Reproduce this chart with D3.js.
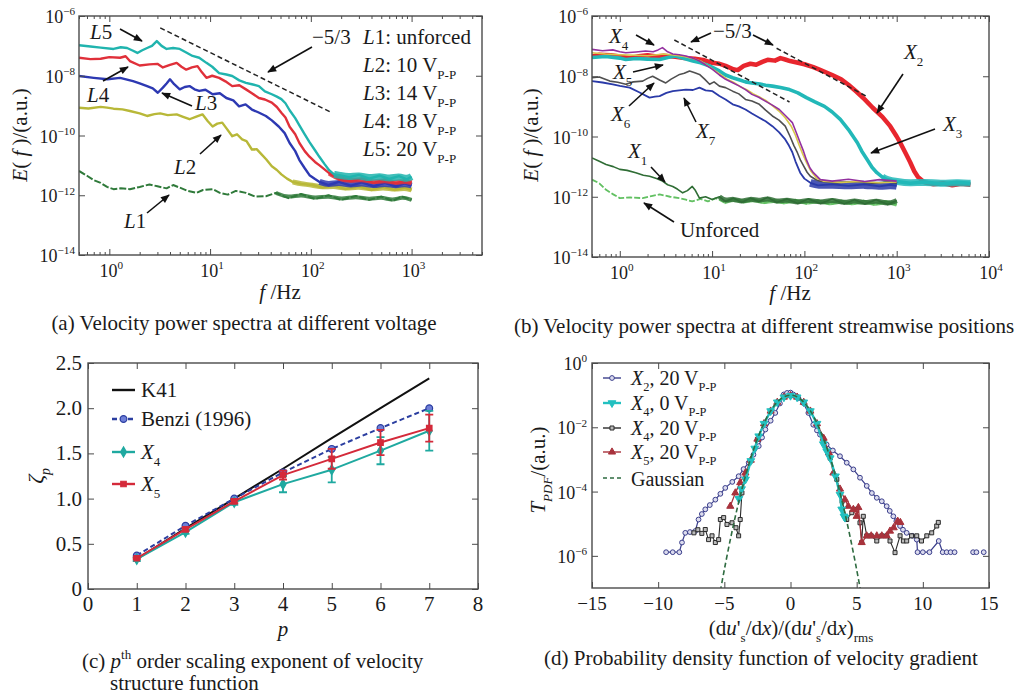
<!DOCTYPE html>
<html>
<head>
<meta charset="utf-8">
<script src="https://cdn.jsdelivr.net/npm/d3@7"></script>
<style>
  body { margin: 0; background: #fff; }
  text { font-family: "Liberation Serif", "Times New Roman", serif; fill: #1a1a1a; }
</style>
</head>
<body>
<script>
// ---------- panel (a): spectra at different voltage, points are [f (Hz), E(f)] ----------
var aL1 = [[0.5,6.5e-12],[0.6,4.5e-12],[0.7,3.2e-12],[0.82,2.6e-12],[0.95,1.9e-12],[1.1,1.6e-12],[1.3,1.7e-12],[1.6,1.6e-12],[2.0,1.9e-12],[2.5,2.3e-12],[3.0,2.0e-12],[3.7,1.7e-12],[4.3,2.2e-12],[5,1.8e-12],[6,1.4e-12],[7.3,1.2e-12],[8.5,1.5e-12],[10.6,1.6e-12],[12.5,1.2e-12],[15,1.05e-12],[18,1.4e-12],[22.7,1.2e-12],[28,9e-13],[35.8,9.3e-13],[45,1.2e-12],[60,8e-13],[80,1.1e-12],[110,7.5e-13],[150,1.0e-12],[200,7e-13],[280,9.5e-13],[380,7e-13],[500,9e-13],[650,6.5e-13],[800,9e-13],[1000,7e-13]];
var aL2 = [[0.5,8.5e-10],[0.62,8e-10],[0.82,9.1e-10],[0.95,8.6e-10],[1.1,7.9e-10],[1.35,7.5e-10],[1.6,6.6e-10],[2.0,5.5e-10],[2.37,4.5e-10],[2.8,5.2e-10],[3.2,5.5e-10],[3.8,4.8e-10],[4.66,5.1e-10],[5.4,4.2e-10],[6.25,3.5e-10],[7.2,4.2e-10],[8.4,5.1e-10],[9.5,3e-10],[10.6,2e-10],[11.8,2.5e-10],[13.2,2.7e-10],[14.8,1.6e-10],[16.6,9.5e-11],[18.5,1.1e-10],[20.8,7.4e-11],[23,6.5e-11],[26,3.4e-11],[29,3.5e-11],[32.6,2.3e-11],[36,1.6e-11],[41,9.3e-12],[46,7e-12],[51,5e-12],[58,3.6e-12],[66,2.8e-12],[80,2.4e-12],[104,2.2e-12],[130,1.8e-12],[170,2.1e-12],[220,1.6e-12],[300,2e-12],[400,1.5e-12],[520,1.9e-12],[680,1.5e-12],[850,1.8e-12],[1000,1.5e-12]];
var aL3 = [[0.5,9.8e-9],[0.7,8.5e-9],[0.96,7.6e-9],[1.28,8.5e-9],[1.5,7.4e-9],[1.72,6.6e-9],[2.0,5.6e-9],[2.37,4.5e-9],[2.7,3.8e-9],[3.03,2.7e-9],[3.4,4e-9],[3.7,5.5e-9],[4.0,7.6e-9],[4.4,5.2e-9],[5.0,3.5e-9],[5.6,4.2e-9],[6.25,4.5e-9],[7.0,3.5e-9],[7.8,3.1e-9],[9,3.4e-9],[10.6,2.4e-9],[12.5,2.6e-9],[14.5,1.8e-9],[17,1.5e-9],[19.4,9.5e-10],[22.5,1.1e-9],[26,7.4e-10],[30,6e-10],[35.8,4.5e-10],[41,3.2e-10],[48,2e-10],[55,1.2e-10],[61.6,5.6e-11],[70,3e-11],[77,1.5e-11],[87,8e-12],[97,4.7e-12],[110,3.5e-12],[122,2.8e-12],[150,2.2e-12],[190,2.8e-12],[250,2.1e-12],[320,2.7e-12],[420,2e-12],[540,2.6e-12],[700,2e-12],[850,2.5e-12],[1000,2.1e-12]];
var aL4 = [[0.5,4e-8],[0.65,3.6e-8],[0.82,3.7e-8],[1.0,4.2e-8],[1.28,4e-8],[1.45,4.5e-8],[1.6,3.1e-8],[2.0,2.2e-8],[2.5,2.4e-8],[3.0,2.5e-8],[3.4,1.9e-8],[4.0,2.3e-8],[4.66,2.7e-8],[5.2,2e-8],[5.8,1.6e-8],[6.6,1.9e-8],[7.5,2.1e-8],[8.3,1.3e-8],[9.2,8.5e-9],[10.5,1e-8],[12.3,8.5e-9],[14.2,6.5e-9],[16.6,4.5e-9],[19.5,4.8e-9],[22.7,3.5e-9],[26,2.6e-9],[30.5,1.8e-9],[35,1.6e-9],[41,1.26e-9],[46,9e-10],[51,5.8e-10],[56,4e-10],[61.6,1.95e-10],[70,1.1e-10],[77,5.6e-11],[87,3e-11],[97,1.95e-11],[110,1.3e-11],[122,1e-11],[152,5.5e-12],[190,3.5e-12],[250,3e-12],[320,3.6e-12],[420,2.6e-12],[540,3.3e-12],[700,2.5e-12],[850,3.1e-12],[1000,2.6e-12]];
var aL5 = [[0.5,1.05e-7],[0.65,9.5e-8],[0.82,8.7e-8],[1.1,7.9e-8],[1.3,9e-8],[1.5,8.5e-8],[1.7,7e-8],[1.9,5.8e-8],[2.1,7e-8],[2.37,8.5e-8],[2.65,1e-7],[2.96,1.45e-7],[3.3,1e-7],[3.7,7.9e-8],[4.3,8.5e-8],[5,7.9e-8],[5.8,6e-8],[6.7,4.6e-8],[7.8,4e-8],[9.2,2.7e-8],[10.5,2e-8],[12.3,1.23e-8],[14.5,1.1e-8],[16.6,9.8e-9],[19.5,7e-9],[22.7,5.8e-9],[26,5.2e-9],[30.5,4.5e-9],[35,3e-9],[41,2.4e-9],[46,2e-9],[51,1.65e-9],[56,1.2e-9],[61.6,7e-10],[70,3.8e-10],[77,2.2e-10],[87,1.1e-10],[97,6e-11],[110,3.2e-11],[122,1.9e-11],[137,1.1e-11],[152,6.9e-12],[170,5e-12],[191,4.7e-12],[240,4e-12],[300,4.8e-12],[380,3.6e-12],[480,4.5e-12],[600,3.5e-12],[750,4.4e-12],[900,3.4e-12],[1000,4.2e-12]];
var aSlopeF = [3.2, 160];
var aSlopeE = [4e-7, 5.9e-10];

// ---------- panel (b): spectra at different streamwise positions ----------
var bX1 = [[0.5,1.95e-11],[0.6,1.5e-11],[0.71,1.17e-11],[0.85,1e-11],[1.0,8.1e-12],[1.2,7.5e-12],[1.49,6.3e-12],[1.8,5.2e-12],[2.1,4.8e-12],[2.5,4e-12],[2.9,3.3e-12],[3.3,2.5e-12],[3.75,2.2e-12],[4.2,1.8e-12],[4.8,1.35e-12],[5.4,1.6e-12],[6.1,2.2e-12],[6.6,1.6e-12],[7.3,9e-13],[8.5,1e-12],[10,8.1e-13],[12,1e-12],[14,7e-13],[17,9e-13],[21,6.5e-13],[26,9e-13],[32,7e-13],[40,9.5e-13],[50,6.5e-13],[65,8.5e-13],[85,6e-13],[110,8.5e-13],[150,6e-13],[200,8.5e-13],[270,5.8e-13],[350,8e-13],[450,5.8e-13],[600,8e-13],[800,5.5e-13],[1000,7.5e-13]];
var bUnforced = [[0.5,3.7e-12],[0.6,2.8e-12],[0.71,1.7e-12],[0.85,1.2e-12],[1.0,9e-13],[1.3,9.5e-13],[1.77,9e-13],[2.2,1.05e-12],[2.7,1.2e-12],[3.5,1e-12],[4.45,9e-13],[5.2,8e-13],[6.1,7e-13],[7.5,8.5e-13],[9,7e-13],[11,9e-13],[13.5,6.5e-13],[17,8.5e-13],[22,6.5e-13],[28,8.5e-13],[36,6e-13],[46,8e-13],[60,6e-13],[80,8e-13],[105,5.8e-13],[140,7.8e-13],[190,5.5e-13],[250,7.5e-13],[330,5.5e-13],[440,7.5e-13],[580,5.3e-13],[760,7.2e-13],[1000,5.5e-13]];
var bX2 = [[0.5,4.5e-8],[0.6,5.2e-8],[0.8,5e-8],[1.0,4.5e-8],[1.3,4e-8],[1.6,4.6e-8],[2,5e-8],[2.5,4.5e-8],[3,4.8e-8],[4,4.4e-8],[5,4e-8],[6.5,3.8e-8],[8,3.5e-8],[10,2.8e-8],[12,2.6e-8],[14,2.2e-8],[17,1.7e-8],[19,1.6e-8],[22,2.2e-8],[26,2.6e-8],[30,2.4e-8],[35,3e-8],[40,3.5e-8],[48,3.3e-8],[55,4e-8],[62,3.6e-8],[70,3.2e-8],[85,2.8e-8],[100,2.5e-8],[125,2e-8],[150,1.6e-8],[200,1.1e-8],[250,8e-9],[300,5.2e-9],[370,3e-9],[450,1.7e-9],[550,9e-10],[700,4.5e-10],[850,2.2e-10],[1000,1e-10],[1100,6e-11],[1250,2.8e-11],[1400,1.4e-11],[1550,7e-12],[1700,4.5e-12],[2000,3e-12],[2500,2.6e-12],[3200,2.8e-12],[4000,2.4e-12],[5000,2.7e-12],[6300,2.5e-12]];
var bX3 = [[0.5,4.2e-8],[0.7,4.5e-8],[1.0,4e-8],[1.16,3.6e-8],[1.5,3.9e-8],[2,3.7e-8],[2.7,3.6e-8],[3.3,4.2e-8],[4,4.7e-8],[5,3.9e-8],[6.2,3.2e-8],[7.5,2.8e-8],[9.4,2.2e-8],[12,1.5e-8],[14,1.1e-8],[16.7,8.9e-9],[20,7.5e-9],[23,6.5e-9],[27,6e-9],[33,5.5e-9],[38,5e-9],[45,4.7e-9],[55,4.2e-9],[69,3.6e-9],[85,2.8e-9],[105,1.95e-9],[130,1.4e-9],[165,1e-9],[200,6.5e-10],[245,3.7e-10],[300,1.7e-10],[375,6.2e-11],[420,3.2e-11],[480,1.7e-11],[540,9.5e-12],[610,6.3e-12],[700,4.5e-12],[780,3.7e-12],[1000,3.2e-12],[1400,2.8e-12],[2000,3.1e-12],[3000,2.7e-12],[4500,3e-12],[6300,2.8e-12]];
var bX4 = [[0.5,7.8e-8],[0.65,7e-8],[0.84,7.5e-8],[1.0,6.5e-8],[1.16,6e-8],[1.5,6.4e-8],[1.9,6.9e-8],[2.3,6.5e-8],[2.6,7.5e-8],[2.9,8.9e-8],[3.3,6.5e-8],[3.75,5.5e-8],[4.4,5.2e-8],[5.2,4.7e-8],[6.2,4e-8],[7.3,3.2e-8],[8.5,2.4e-8],[10.1,1.7e-8],[12,1.1e-8],[14,7.9e-9],[16.5,6.2e-9],[19.8,4.7e-9],[23,3.6e-9],[27,2.5e-9],[32,2e-9],[37.7,1.5e-9],[45,1.1e-9],[53.5,7.9e-10],[63,4.8e-10],[74,2.9e-10],[82,1.3e-10],[90,6.2e-11],[98,3.2e-11],[105,1.7e-11],[115,9e-12],[125,6.3e-12],[149,3.7e-12],[200,3.3e-12],[300,3.8e-12],[450,3.2e-12],[650,3.7e-12],[1000,3.3e-12]];
var bX5 = [[0.5,6e-8],[0.7,5.5e-8],[1,5.2e-8],[1.5,5e-8],[2,4.8e-8],[3,5.5e-8],[4,5e-8],[5,4.5e-8],[6,4e-8],[7.5,3.2e-8],[9,2.2e-8],[10.5,1.6e-8],[12.5,1.1e-8],[14.5,8e-9],[17,6.3e-9],[20,4.6e-9],[24,3.5e-9],[28,2.6e-9],[33,2e-9],[39,1.5e-9],[46,1e-9],[53,7e-10],[62,4.2e-10],[72,2.2e-10],[80,1.1e-10],[88,5e-11],[96,2.6e-11],[105,1.4e-11],[118,7e-12],[135,4.2e-12],[160,3.3e-12],[250,3e-12],[400,3.2e-12],[650,2.9e-12],[1000,3.1e-12]];
var bX6 = [[0.5,8.9e-9],[0.6,9.5e-9],[0.78,6.9e-9],[0.95,6.3e-9],[1.16,5.4e-9],[1.4,6.5e-9],[1.77,6.9e-9],[2.0,8.5e-9],[2.27,1e-8],[2.7,7.5e-9],[3.15,6e-9],[3.6,8e-9],[4.45,1.15e-8],[5.0,1.25e-8],[5.7,1.5e-8],[6.5,1.3e-8],[7.3,1.15e-8],[8.3,8e-9],[9.4,5.4e-9],[10.5,6.5e-9],[12,4.7e-9],[14,4.2e-9],[16.7,3.2e-9],[19.5,2.6e-9],[23,1.7e-9],[27,1.5e-9],[32.5,1.17e-9],[38,7.5e-10],[45,4.8e-10],[53,3.5e-10],[62,2.2e-10],[70,1e-10],[77,5e-11],[84,2.9e-11],[91,1.6e-11],[98,1.05e-11],[107,6.5e-12],[116,4.8e-12],[135,3.6e-12],[149,3.3e-12],[220,2.9e-12],[350,3.2e-12],[550,2.8e-12],[800,3.1e-12],[1000,2.8e-12]];
var bX7 = [[0.5,6.9e-9],[0.65,6.2e-9],[0.84,5.4e-9],[1.0,4.8e-9],[1.28,4.2e-9],[1.6,3e-9],[2.1,1.95e-9],[2.4,2.1e-9],[2.7,2.2e-9],[3.2,2.8e-9],[3.75,3.2e-9],[4.4,3.4e-9],[5.2,3.6e-9],[6.2,3.5e-9],[7.3,4.2e-9],[8.5,3.4e-9],[10.1,3.2e-9],[12,2.2e-9],[14,1.7e-9],[16.7,1.17e-9],[19.5,1e-9],[23,7.9e-10],[27,5.8e-10],[32.5,4.2e-10],[38,3.2e-10],[45,2.2e-10],[53,1.4e-10],[62,8e-11],[68,5e-11],[74,3e-11],[80,1.5e-11],[90,6.3e-12],[100,4e-12],[116,2.9e-12],[140,2.4e-12],[200,2.6e-12],[300,2.3e-12],[450,2.6e-12],[650,2.2e-12],[850,2.5e-12],[1000,2.3e-12]];
var bSlope1F = [3.9, 69],  bSlope1E = [1.6e-7, 1.4e-9];
var bSlope2F = [50, 480],  bSlope2E = [8.5e-8, 2.1e-9];

var specTicks = [1e-6, 1e-8, 1e-10, 1e-12, 1e-14];
var freqTicksA = [1, 10, 100, 1000];
var freqTicksB = [1, 10, 100, 1000, 10000];

// ---------- panel (c): scaling exponents ----------
var pOrder = [1, 2, 3, 4, 5, 6, 7];
var zetaK41 = [0.33, 0.67, 1.0, 1.33, 1.67, 2.0, 2.33];
var zetaBenzi = [0.37, 0.70, 1.0, 1.29, 1.55, 1.78, 2.0];
var zetaX4 = [0.33, 0.63, 0.96, 1.16, 1.32, 1.53, 1.75];
var errX4 = [0.02, 0.02, 0.03, 0.09, 0.14, 0.15, 0.22];
var zetaX5 = [0.34, 0.66, 0.97, 1.26, 1.44, 1.62, 1.78];
var errX5 = [0.01, 0.02, 0.02, 0.05, 0.11, 0.14, 0.15];
var pTicks = [0, 1, 2, 3, 4, 5, 6, 7, 8];
var zetaTicks = [0, 0.5, 1.0, 1.5, 2.0, 2.5];

// ---------- panel (d): PDF of velocity gradient, points are [x, T] (null = gap) ----------
var pdfX2 = [[-9.4,1.3e-6],[-8.9,1.3e-6],[-8.4,1.3e-6],[-8.2,2.6e-6],[-7.95,5.2e-6],[-7.6,5.5e-6],[-7.2,5.9e-6],[-6.95,1.35e-5],[-6.7,2e-5],[-6.44,2.8e-5],[-6.1,3.8e-5],[-5.68,5.6e-5],[-5.3,8.5e-5],[-4.93,1.3e-4],[-4.4,2e-4],[-3.92,3e-4],[-3.55,5e-4],[-3.16,7.9e-4],[-2.8,1.4e-3],[-2.4,2.6e-3],[-2.15,4.8e-3],[-1.9,8.5e-3],[-1.5,1.6e-2],[-1.15,2.8e-2],[-0.8,5.5e-2],[-0.51,0.105],[-0.26,0.117],[0,0.12],[0.21,0.105],[0.6,0.08],[0.97,0.057],[1.35,0.028],[1.72,0.012],[2.0,8e-3],[2.23,5.9e-3],[2.5,4e-3],[2.73,2.9e-3],[3.2,1.9e-3],[3.74,1.26e-3],[4.25,7.9e-4],[4.75,4.9e-4],[5.25,2.7e-4],[5.76,1.5e-4],[6.15,9e-5],[6.52,6.4e-5],[6.9,5e-5],[7.27,3.5e-5],[7.5,2.5e-5],[7.77,1.7e-5],[8.0,1.2e-5],[8.28,8.5e-6],[8.5,6.5e-6],[8.78,5.2e-6],[9.2,4.2e-6],[9.54,3.2e-6],[9.6,1.3e-6],[10.0,1.3e-6],[10.5,1.3e-6],[11.2,2.9e-6],[11.5,1.3e-6],[11.8,1.3e-6],[12.1,1.3e-6],[12.4,1.3e-6],null,[13.8,1.3e-6],[14.05,1.3e-6],null,[14.6,1.3e-6]];
var pdfX4off = [[-3.9,6e-5],[-3.7,1.2e-4],[-3.4,2.4e-4],[-3.0,9e-4],[-2.7,2.2e-3],[-2.4,5.3e-3],[-2.0,1.3e-2],[-1.5,3.2e-2],[-1.0,6e-2],[-0.5,8.6e-2],[0,9.6e-2],[0.5,8.6e-2],[1.0,6e-2],[1.5,3.2e-2],[2.0,1.3e-2],[2.48,3e-3],[2.74,1.8e-3],[3.0,1.1e-3],[3.4,3e-4],[3.74,8.1e-5],[3.87,2.8e-5],[4.04,1.7e-5],[4.12,1.55e-5]];
var pdfX4on = [[-7.3,5.2e-6],[-7.0,6.5e-6],[-6.7,5e-6],[-6.44,6.6e-6],[-6.19,3.2e-6],[-5.93,4.2e-6],[-5.68,2.6e-6],[-5.43,3.2e-6],[-5.3,1.35e-5],[-5.05,1.55e-5],[-4.8,9.5e-6],[-4.42,1.07e-5],[-4.12,7.5e-6],[-3.92,4.2e-6],[-3.8,1.35e-5],[-3.67,9.1e-5],[-3.4,2.6e-4],[-3.0,9e-4],[-2.5,4.2e-3],[-2.0,1.3e-2],[-1.5,3.2e-2],[-1.0,6e-2],[-0.5,8.7e-2],[0,9.7e-2],[0.5,8.7e-2],[1.0,6e-2],[1.5,3.2e-2],[2.0,1.3e-2],[2.5,4.3e-3],[3.0,1.1e-3],[3.5,2.4e-4],[3.9,5e-5],[4.25,1.35e-5],[4.63,2.2e-5],[5.0,2.8e-5],[5.25,1.07e-5],[5.38,2.6e-6],[5.5,1.7e-5],[5.76,4.2e-6],[6.1,4.2e-6],[6.52,2.9e-6],[6.9,4.2e-6],[7.27,4.2e-6],[7.52,2.9e-6],[7.9,1.26e-6],[8.28,4.2e-6],[8.53,2.9e-6],[8.78,2.9e-6],[9.15,4.2e-6],[9.54,4.2e-6],[9.9,2.9e-6],[10.3,4.2e-6],[10.67,5.2e-6],[11.05,8.5e-6],[11.17,1.1e-5]];
var pdfX5 = [[-4.55,3.5e-5],[-4.17,9.1e-5],[-3.8,1.9e-4],[-3.41,3.8e-4],[-3.0,9.5e-4],[-2.5,4.3e-3],[-2.0,1.3e-2],[-1.5,3.2e-2],[-1.0,6e-2],[-0.5,8.7e-2],[0,9.7e-2],[0.5,8.7e-2],[1.0,6e-2],[1.5,3.2e-2],[2.0,1.3e-2],[2.5,4.6e-3],[2.9,1.6e-3],[3.24,3.8e-4],[3.74,1.2e-4],[4.12,5.6e-5],[4.37,3.5e-5],[4.75,2.8e-5],[5.0,1.7e-5],[5.13,3.2e-5],[5.38,2.6e-6],[5.76,4.2e-6],[6.1,4.2e-6],[6.52,4.2e-6],[6.9,4.2e-6],[7.27,4.2e-6],[7.52,5.9e-6],[7.8,7.5e-6],[8.1,1.2e-5],[8.3,1.1e-5]];
var gaussX = [-5.3,-5,-4.5,-4,-3.5,-3,-2.5,-2,-1.5,-1,-0.5,0,0.5,1,1.5,2,2.5,3,3.5,4,4.5,5,5.3];
var gaussT = [8.1e-8,3.73e-7,3.98e-6,3.35e-5,2.19e-4,1.11e-3,4.39e-3,1.35e-2,3.25e-2,6.07e-2,8.82e-2,0.1,8.82e-2,6.07e-2,3.25e-2,1.35e-2,4.39e-3,1.11e-3,2.19e-4,3.35e-5,3.98e-6,3.73e-7,8.1e-8];
var gradTicks = [-15, -10, -5, 0, 5, 10, 15];
var pdfTicks = [1, 1e-2, 1e-4, 1e-6];

// ---------- layout ----------
var boxA = {left: 79, top: 16, right: 482, bottom: 255};
var boxB = {left: 592, top: 16, right: 989, bottom: 257};
var boxC = {left: 88, top: 363, right: 478, bottom: 589};
var boxD = {left: 592, top: 363, right: 989, bottom: 588};

var svg = d3.select("body").append("svg")
  .attr("width", 1022)
  .attr("height", 697);

var defs = svg.append("defs");
defs.append("marker")
  .attr("id", "arrow")
  .attr("viewBox", "0 0 10 10")
  .attr("refX", 9).attr("refY", 5)
  .attr("markerWidth", 10).attr("markerHeight", 9)
  .attr("markerUnits", "userSpaceOnUse")
  .attr("orient", "auto")
  .append("path").attr("d", "M0,1 L10,5 L0,9 Z").attr("fill", "#111");

// text with italic / sub / sup pieces: parts = [[text, style], ...]
function rich(x, y, parts, size, anchor, rotate) {
  var t = svg.append("text")
    .attr("x", x).attr("y", y)
    .attr("font-size", size)
    .attr("text-anchor", anchor || "start");
  if (rotate) t.attr("transform", `rotate(${rotate},${x},${y})`);
  var shift = 0;
  parts.forEach(function(p) {
    var st = p[1] || "";
    var s = t.append("tspan").text(p[0]);
    var target = 0;
    if (st.indexOf("i") >= 0) s.attr("font-style", "italic");
    if (st.indexOf("sub") >= 0) { target = size * 0.32; s.attr("font-size", size * 0.62); }
    if (st.indexOf("sup") >= 0) { target = -size * 0.42; s.attr("font-size", size * 0.62); }
    if (target !== shift) { s.attr("dy", target - shift); shift = target; }
  });
  return t;
}

function arrow(x1, y1, x2, y2) {
  svg.append("line")
    .attr("x1", x1).attr("y1", y1).attr("x2", x2).attr("y2", y2)
    .attr("stroke", "#111").attr("stroke-width", 1.6)
    .attr("marker-end", "url(#arrow)");
}

function frame(b) {
  svg.append("rect")
    .attr("x", b.left).attr("y", b.top)
    .attr("width", b.right - b.left).attr("height", b.bottom - b.top)
    .attr("fill", "none").attr("stroke", "#4a4a4a").attr("stroke-width", 1.4);
}

function clipFor(id, b) {
  defs.append("clipPath").attr("id", id).append("rect")
    .attr("x", b.left).attr("y", b.top)
    .attr("width", b.right - b.left).attr("height", b.bottom - b.top);
  return svg.append("g").attr("clip-path", `url(#${id})`);
}

// inward ticks on all four sides
function tickMarks(b, x, y, xMajor, xMinor, yMajor, yMinor) {
  var sides = [
    [d3.axisBottom(x), xMajor, xMinor, `translate(0,${b.bottom})`],
    [d3.axisTop(x), xMajor, xMinor, `translate(0,${b.top})`],
    [d3.axisLeft(y), yMajor, yMinor, `translate(${b.left},0)`],
    [d3.axisRight(y), yMajor, yMinor, `translate(${b.right},0)`]
  ];
  sides.forEach(function(s) {
    [[s[1], 6], [s[2], 3]].forEach(function(t) {
      if (!t[0] || !t[0].length) return;
      svg.append("g")
        .attr("transform", s[3])
        .attr("color", "#4a4a4a")
        .call(s[0].tickValues(t[0]).tickSize(-t[1]).tickFormat(""))
        .call(g => g.select(".domain").remove());
    });
  });
}

function powLabel(x, y, v, size, anchor) {
  var e = Math.round(Math.log10(v));
  rich(x, y, [["10", ""], [e < 0 ? "\u2212" + (-e) : String(e), "sup"]], size, anchor);
}

function drawLine(g, x, y, data, color, width, dash, curve) {
  var line = d3.line()
    .defined(d => d !== null)
    .curve(curve || d3.curveLinear)
    .x(d => x(d[0]))
    .y(d => y(d[1]));
  return g.append("path")
    .datum(data)
    .attr("d", line)
    .attr("fill", "none")
    .attr("stroke", color)
    .attr("stroke-width", width)
    .attr("stroke-linejoin", "round")
    .attr("stroke-dasharray", dash || null);
}

function minorLogTicks(x, majors) {
  return x.ticks().filter(v => majors.indexOf(v) < 0 && Math.abs(Math.log10(v) - Math.round(Math.log10(v))) > 1e-6);
}

// ---------- spectra panels ----------
// "band" = [frequency above which the trace is a thick noise floor, band width]
function spectrumPanel(b, xDomain, xMajor, series, slopes, clipId) {
  var x = d3.scaleLog().domain(xDomain).range([b.left, b.right]);
  var y = d3.scaleLog().domain([1e-14, 1e-6]).range([b.bottom, b.top]);
  var g = clipFor(clipId, b);
  series.forEach(function(s) {
    if (s.band) {
      drawLine(g, x, y, s.data.filter(d => d[0] >= s.band[0]), s.color, s.band[1], null, d3.curveBasis)
        .attr("stroke-opacity", 0.85);
    }
    drawLine(g, x, y, s.data, s.color, s.width, s.dash);
  });
  slopes.forEach(function(s) {
    drawLine(g, x, y, [[s[0][0], s[1][0]], [s[0][1], s[1][1]]], "#222", 1.5, "5,3");
  });
  frame(b);
  tickMarks(b, x, y, xMajor, minorLogTicks(x, xMajor), specTicks, []);
  xMajor.forEach(v => powLabel(x(v) + 2, b.bottom + 22, v, 18, "middle"));
  specTicks.forEach(v => powLabel(b.left - 4, y(v) + 7, v, 18, "end"));
  return {x: x, y: y};
}

spectrumPanel(boxA, [0.5, 5000], freqTicksA, [
  {data: aL1, color: "#2f7a3a", width: 2, dash: "7,2", band: [40, 4]},
  {data: aL2, color: "#b8b838", width: 2.4, band: [60, 5]},
  {data: aL3, color: "#2d39b2", width: 2.4, band: [120, 6]},
  {data: aL4, color: "#e0303a", width: 2.4, band: [150, 5]},
  {data: aL5, color: "#20b4ae", width: 2.4, band: [170, 7]}
], [[aSlopeF, aSlopeE]], "clipA");

spectrumPanel(boxB, [0.5, 10000], freqTicksB, [
  {data: bUnforced, color: "#62c062", width: 1.8, dash: "6,2", band: [12, 4]},
  {data: bX1, color: "#2f6d35", width: 1.6, band: [12, 5]},
  {data: bX2, color: "#e8262e", width: 4.5},
  {data: bX3, color: "#22b8b8", width: 3.6, band: [700, 7]},
  {data: bX7, color: "#2a3aa8", width: 1.8, band: [110, 8]},
  {data: bX6, color: "#505050", width: 1.6},
  {data: bX5, color: "#d8c84a", width: 1.6},
  {data: bX4, color: "#93309f", width: 1.6}
], [[bSlope1F, bSlope1E], [bSlope2F, bSlope2E]], "clipB");

// panel (a) annotations
rich(27, 135, [["E", "i"], ["( ", ""], ["f", "i"], [" )/(a.u.)", ""]], 21, "middle", -90);
rich(280, 299, [["f", "i"], [" /Hz", ""]], 21, "middle");
rich(90, 39, [["L", "i"], ["5", ""]], 21);
rich(87, 102, [["L", "i"], ["4", ""]], 21);
rich(195, 110, [["L", "i"], ["3", ""]], 21);
rich(174, 174, [["L", "i"], ["2", ""]], 21);
rich(124, 228, [["L", "i"], ["1", ""]], 21);
rich(312, 44, [["\u22125/3", ""]], 21);
rich(363, 44, [["L", "i"], ["1: unforced", ""]], 21);
[["2", "10"], ["3", "14"], ["4", "18"], ["5", "20"]].forEach(function(r, i) {
  rich(363, 72 + i * 28, [["L", "i"], [r[0] + ": " + r[1] + " V", ""], ["P-P", "sub"]], 21);
});
arrow(120, 29, 142, 41);
arrow(103, 81, 128, 67);
arrow(192, 106, 162, 93);
arrow(200, 154, 221, 135);
arrow(147, 213, 169, 195);
arrow(312, 47, 268, 72);

// panel (b) annotations
rich(538, 135, [["E", "i"], ["( ", ""], ["f", "i"], [" )/(a.u.)", ""]], 21, "middle", -90);
rich(790, 300, [["f", "i"], [" /Hz", ""]], 21, "middle");
rich(713, 38, [["\u22125/3", ""]], 21);
rich(609, 43, [["X", "i"], ["4", "sub"]], 21);
rich(613, 79, [["X", "i"], ["5", "sub"]], 21);
rich(611, 121, [["X", "i"], ["6", "sub"]], 21);
rich(696, 138, [["X", "i"], ["7", "sub"]], 21);
rich(628, 158, [["X", "i"], ["1", "sub"]], 21);
rich(904, 59, [["X", "i"], ["2", "sub"]], 21);
rich(943, 131, [["X", "i"], ["3", "sub"]], 21);
rich(680, 237, [["Unforced", ""]], 21);
arrow(636, 35, 654, 45);
arrow(633, 72, 663, 65);
arrow(629, 106, 654, 83);
arrow(696, 122, 684, 98);
arrow(651, 167, 665, 182);
arrow(674, 222, 644, 203);
arrow(903, 74, 877, 113);
arrow(935, 129, 871, 153);
arrow(711, 33, 691, 42);
arrow(753, 35, 773, 45);

// ---------- panel (c) ----------
var xC = d3.scaleLinear().domain([0, 8]).range([boxC.left, boxC.right]);
var yC = d3.scaleLinear().domain([0, 2.5]).range([boxC.bottom, boxC.top]);
frame(boxC);
tickMarks(boxC, xC, yC, pTicks, [], zetaTicks, []);
pTicks.forEach(v => rich(xC(v), boxC.bottom + 22, [[String(v), ""]], 21, "middle"));
zetaTicks.forEach(v => rich(boxC.left - 6, yC(v) + 7, [[v === 0 ? "0" : v.toFixed(1), ""]], 21, "end"));

var cSeries = [
  {vals: zetaK41, color: "#111", dash: null, mark: null},
  {vals: zetaBenzi, color: "#2b3ea0", dash: "5,3", mark: "circle"},
  {vals: zetaX4, err: errX4, color: "#1fa9a0", dash: null, mark: "diamond"},
  {vals: zetaX5, err: errX5, color: "#d42a3a", dash: null, mark: "square"}
];
var symbolTypes = {circle: d3.symbolCircle, diamond: d3.symbolDiamond, square: d3.symbolSquare};

function cMarker(px, py, s) {
  if (!s.mark) return;
  svg.append("path")
    .attr("transform", `translate(${px},${py})`)
    .attr("d", d3.symbol().type(symbolTypes[s.mark]).size(s.mark === "circle" ? 36 : 30)())
    .attr("fill", s.mark === "circle" ? "#6f7fd8" : s.color)
    .attr("stroke", s.color).attr("stroke-width", 1.2);
}

cSeries.forEach(function(s) {
  var pts = pOrder.map((p, i) => [p, s.vals[i]]);
  drawLine(svg, xC, yC, pts, s.color, 2, s.dash);
  if (s.err) {
    pts.forEach(function(d, i) {
      var top = yC(d[1] + s.err[i]), bot = yC(d[1] - s.err[i]), cx = xC(d[0]);
      svg.append("path")
        .attr("d", `M${cx},${top}V${bot}M${cx - 4},${top}H${cx + 4}M${cx - 4},${bot}H${cx + 4}`)
        .attr("stroke", s.color).attr("stroke-width", 1.8).attr("fill", "none");
    });
  }
  pts.forEach(d => cMarker(xC(d[0]), yC(d[1]), s));
});

// legend (c)
var cLegend = [
  [[["K41", ""]], 0],
  [[["Benzi (1996)", ""]], 1],
  [[["X", "i"], ["4", "sub"]], 2],
  [[["X", "i"], ["5", "sub"]], 3]
];
var cLegendY = [390, 419, 452, 484];
cLegend.forEach(function(l, i) {
  var s = cSeries[l[1]], ly = cLegendY[i];
  svg.append("line").attr("x1", 112).attr("x2", 135).attr("y1", ly).attr("y2", ly)
    .attr("stroke", s.color).attr("stroke-width", 2.4).attr("stroke-dasharray", s.dash);
  cMarker(123.5, ly, s);
  rich(141, ly + 7, l[0], 21);
});
rich(43, 476, [["\u03b6", "i"], ["p", "isub"]], 22, "middle", -90);
rich(283, 636, [["p", "i"]], 21, "middle");

// ---------- panel (d) ----------
var xD = d3.scaleLinear().domain([-15, 15]).range([boxD.left, boxD.right]);
var yD = d3.scaleLog().domain([1e-7, 1]).range([boxD.bottom, boxD.top]);
var gD = clipFor("clipD", boxD);

var dSeries = [
  {data: pdfX2, color: "#3b3f8c", width: 1.2, mark: "circle", fill: "#dcdcee", size: 18},
  {data: pdfX4on, color: "#2a2a2a", width: 1.1, mark: "square", fill: "#bbbbbb", size: 16},
  {data: pdfX5, color: "#a8323c", width: 1.3, mark: "triangle", fill: "#a8323c", size: 22},
  {data: pdfX4off, color: "#22c0c0", width: 2.4, mark: "down", fill: "#22c0c0", size: 26}
];
var dSymbols = {circle: d3.symbolCircle, square: d3.symbolSquare, triangle: d3.symbolTriangle, down: d3.symbolTriangle};

function dMarker(g, px, py, s) {
  g.append("path")
    .attr("transform", `translate(${px},${py})` + (s.mark === "down" ? " rotate(180)" : ""))
    .attr("d", d3.symbol().type(dSymbols[s.mark]).size(s.size)())
    .attr("fill", s.fill).attr("stroke", s.color).attr("stroke-width", 1);
}

dSeries.forEach(function(s) {
  drawLine(gD, xD, yD, s.data, s.color, s.width);
  s.data.filter(d => d !== null).forEach(d => dMarker(gD, xD(d[0]), yD(d[1]), s));
});
drawLine(gD, xD, yD, gaussX.map((v, i) => [v, gaussT[i]]), "#2e6b40", 1.6, "5,3", d3.curveCatmullRom);

frame(boxD);
tickMarks(boxD, xD, yD, gradTicks, [], pdfTicks, []);
gradTicks.forEach(v => rich(xD(v), boxD.bottom + 22, [[v < 0 ? "\u2212" + (-v) : String(v), ""]], 19, "middle"));
pdfTicks.forEach(v => powLabel(boxD.left - 5, yD(v) + 7, v, 18, "end"));

// legend (d)
var dLegendY = [378, 403, 428, 452];
var dLegendText = [
  [["X", "i"], ["2", "sub"], [", 20 V", ""], ["P-P", "sub"]],
  [["X", "i"], ["4", "sub"], [", 0 V", ""], ["P-P", "sub"]],
  [["X", "i"], ["4", "sub"], [", 20 V", ""], ["P-P", "sub"]],
  [["X", "i"], ["5", "sub"], [", 20 V", ""], ["P-P", "sub"]]
];
[0, 3, 1, 2].forEach(function(si, i) {
  var s = dSeries[si], ly = dLegendY[i];
  svg.append("line").attr("x1", 603).attr("x2", 621).attr("y1", ly).attr("y2", ly)
    .attr("stroke", s.color).attr("stroke-width", Math.max(1.4, s.width));
  dMarker(svg, 612, ly, s);
  rich(631, ly + 7, dLegendText[i], 20);
});
svg.append("line").attr("x1", 603).attr("x2", 621).attr("y1", 478).attr("y2", 478)
  .attr("stroke", "#2e6b40").attr("stroke-width", 1.6).attr("stroke-dasharray", "4,3");
rich(631, 486, [["Gaussian", ""]], 20);

rich(545, 470, [["T", "i"], ["PDF", "isub"], ["/(a.u.)", ""]], 21, "middle", -90);
rich(791, 635, [["(d", ""], ["u", "i"], ["'", ""], ["s", "sub"], ["/d", ""], ["x", "i"], [")/(d", ""], ["u", "i"], ["'", ""], ["s", "sub"], ["/d", ""], ["x", "i"], [")", ""], ["rms", "sub"]], 21, "middle");

// ---------- captions ----------
rich(244, 330, [["(a) Velocity power spectra at different voltage", ""]], 21, "middle");
rich(764, 333, [["(b) Velocity power spectra at different streamwise positions", ""]], 21, "middle");
rich(82, 668, [["(c) ", ""], ["p", "i"], ["th", "sup"], [" order scaling exponent of velocity", ""]], 21);
rich(110, 690, [["structure function", ""]], 21);
rich(761, 665, [["(d) Probability density function of velocity gradient", ""]], 21, "middle");
</script>
</body>
</html>
